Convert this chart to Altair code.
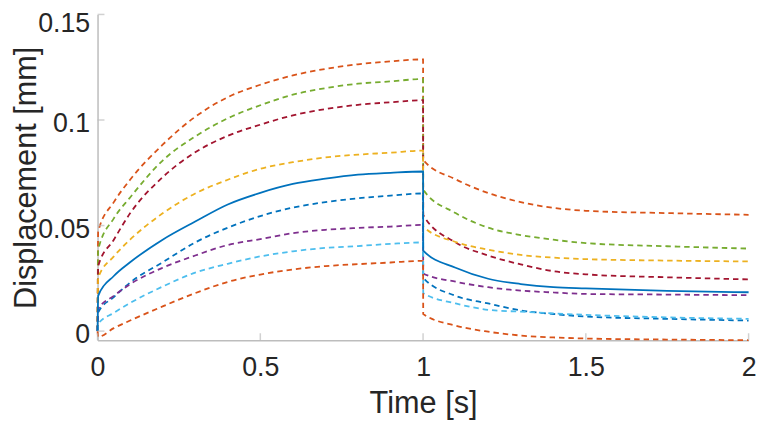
import altair as alt
import pandas as pd

# time samples [s]
time_s = [0, 0.002, 0.05, 0.1, 0.2, 0.3, 0.4, 0.5, 0.6, 0.7, 0.8, 0.9, 1.0,
          1.0005, 1.1, 1.2, 1.3, 1.4, 1.5, 1.75, 2.0]

# displacement [mm]
upper_orange = [0, 0.0472, 0.0611, 0.0717, 0.0883, 0.1015, 0.1108, 0.1167, 0.1211, 0.1242, 0.1264, 0.1278, 0.1287,
                0.0811, 0.0719, 0.0654, 0.0611, 0.0584, 0.0570, 0.0559, 0.0551]
green = [0, 0.0386, 0.0534, 0.0633, 0.0808, 0.0922, 0.1008, 0.1070, 0.1120, 0.1151, 0.1172, 0.1183, 0.1194,
         0.0670, 0.0559, 0.0490, 0.0455, 0.0433, 0.0417, 0.0402, 0.0391]
dark_red = [0, 0.0308, 0.0433, 0.0558, 0.0729, 0.0847, 0.0925, 0.0978, 0.1022, 0.1052, 0.1072, 0.1084, 0.1094,
            0.0550, 0.0420, 0.0358, 0.0316, 0.0284, 0.0269, 0.0255, 0.0245]
yellow = [0, 0.0253, 0.0354, 0.0433, 0.0558, 0.0652, 0.0717, 0.0769, 0.0800, 0.0823, 0.0836, 0.0845, 0.0855,
          0.0495, 0.0422, 0.0386, 0.0361, 0.0348, 0.0341, 0.0334, 0.0330]
blue_dashed = [0, 0.0089, 0.0161, 0.0230, 0.0326, 0.0420, 0.0490, 0.0545, 0.0585, 0.0611, 0.0629, 0.0642, 0.0652,
               0.0253, 0.0167, 0.0131, 0.0098, 0.0081, 0.0069, 0.0058, 0.0050]
purple = [0, 0.0105, 0.0167, 0.0222, 0.0300, 0.0358, 0.0408, 0.0436, 0.0464, 0.0480, 0.0489, 0.0495, 0.0503,
          0.0273, 0.0234, 0.0208, 0.0192, 0.0183, 0.0176, 0.0173, 0.0170]
light_blue = [0, 0.0034, 0.0086, 0.0133, 0.0211, 0.0277, 0.0319, 0.0354, 0.0378, 0.0394, 0.0403, 0.0413, 0.0420,
              0.0180, 0.0131, 0.0101, 0.0092, 0.0084, 0.0077, 0.0065, 0.0058]
lower_orange = [0, -0.0027, 0.0014, 0.0050, 0.0117, 0.0180, 0.0233, 0.0268, 0.0292, 0.0308, 0.0317, 0.0325, 0.0333,
                0.0081, 0.0026, -0.0003, -0.0021, -0.0030, -0.0035, -0.0040, -0.0043]
blue_solid = [0, 0.0167, 0.0261, 0.0326, 0.0433, 0.0519, 0.0600, 0.0655, 0.0697, 0.0722, 0.0741, 0.0750, 0.0756,
              0.0381, 0.0300, 0.0248, 0.0223, 0.0208, 0.0202, 0.0191, 0.0184]

x_ticks = [0, 0.5, 1, 1.5, 2]
y_ticks = [0, 0.05, 0.1, 0.15]

dashed_names = ["upper_orange", "green", "dark_red", "yellow", "blue_dashed",
                "purple", "light_blue", "lower_orange"]
dashed_colors = ["#D95319", "#77AC30", "#A2142F", "#EDB120", "#0072BD",
                 "#7E2F8E", "#4DBEEE", "#D95319"]
dashed_values = [upper_orange, green, dark_red, yellow, blue_dashed,
                 purple, light_blue, lower_orange]

rows = []
for name, vals in zip(dashed_names, dashed_values):
    for t, v in zip(time_s, vals):
        rows.append({"t": t, "d": v, "curve": name})
df_dashed = pd.DataFrame(rows)
df_solid = pd.DataFrame({"t": time_s, "d": blue_solid})
df_xt = pd.DataFrame({"t": x_ticks})
df_yt = pd.DataFrame({"d": y_ticks})

W, H = 658, 329.2
FONT = "Liberation Sans"
AX = "#BDBDBD"
TXT = "#262626"

xs = alt.Scale(domain=[0, 2], nice=False, zero=False)
ys = alt.Scale(domain=[-0.0043, 0.15], nice=False, zero=False)

x_axis = alt.Axis(values=x_ticks, format=".3~g", title="Time [s]", grid=False,
                  ticks=False, tickSize=0, domainColor=AX, domainWidth=1.5,
                  labelFont=FONT, labelFontSize=27, labelColor=TXT,
                  labelBaseline="alphabetic", labelPadding=35.2,
                  labelFlush=False,
                  titleFont=FONT, titleFontSize=31, titleFontWeight="normal",
                  titleColor=TXT, titleBaseline="alphabetic",
                  titleX=W / 2, titleY=73.5)
y_axis = alt.Axis(values=y_ticks, format=".3~g", title="Displacement [mm]", grid=False,
                  ticks=False, tickSize=0, domainColor=AX, domainWidth=1.5,
                  labelFont=FONT, labelFontSize=27, labelColor=TXT,
                  labelBaseline="alphabetic", labelPadding=8, labelFlush=False,
                  labelOverlap=False,
                  labelOffset={"condition": {"test": "datum.value > 0.14", "value": 17},
                               "value": 11.7},
                  titleFont=FONT, titleFontSize=31, titleFontWeight="normal",
                  titleColor=TXT, titleBaseline="alphabetic", titleAngle=270,
                  titleX=-63, titleY=H / 2)

X = alt.X("t:Q", scale=xs, axis=x_axis)
Y = alt.Y("d:Q", scale=ys, axis=y_axis)

dashed = alt.Chart(df_dashed).mark_line(
    strokeDash=[5.5, 4], strokeWidth=1.8, interpolate="monotone"
).encode(
    x=X, y=Y,
    color=alt.Color("curve:N", scale=alt.Scale(domain=dashed_names, range=dashed_colors), legend=None),
    order=alt.Order("t:Q"),
)

solid = alt.Chart(df_solid).mark_line(
    strokeWidth=1.8, interpolate="monotone", color="#0072BD"
).encode(
    x=X, y=Y,
    order=alt.Order("t:Q"),
)

yticks = alt.Chart(df_yt).mark_tick(orient="horizontal", size=7, thickness=1.5, color=AX).encode(
    y=Y,
    x=alt.value(3.5),
)
xticks = alt.Chart(df_xt).mark_tick(orient="vertical", size=7, thickness=1.5, color=AX).encode(
    x=X,
    y=alt.value(H - 3.5),
)

chart = alt.layer(dashed, solid, yticks, xticks).properties(
    width=W, height=H,
    background="white",
    autosize=alt.AutoSizeParams(type="none"),
    padding={"left": 90.5, "top": 4.3, "right": 8.5, "bottom": 83.5},
).configure_view(stroke=None)

chart.save("out.html", embed_options={"renderer": "svg", "actions": False})
